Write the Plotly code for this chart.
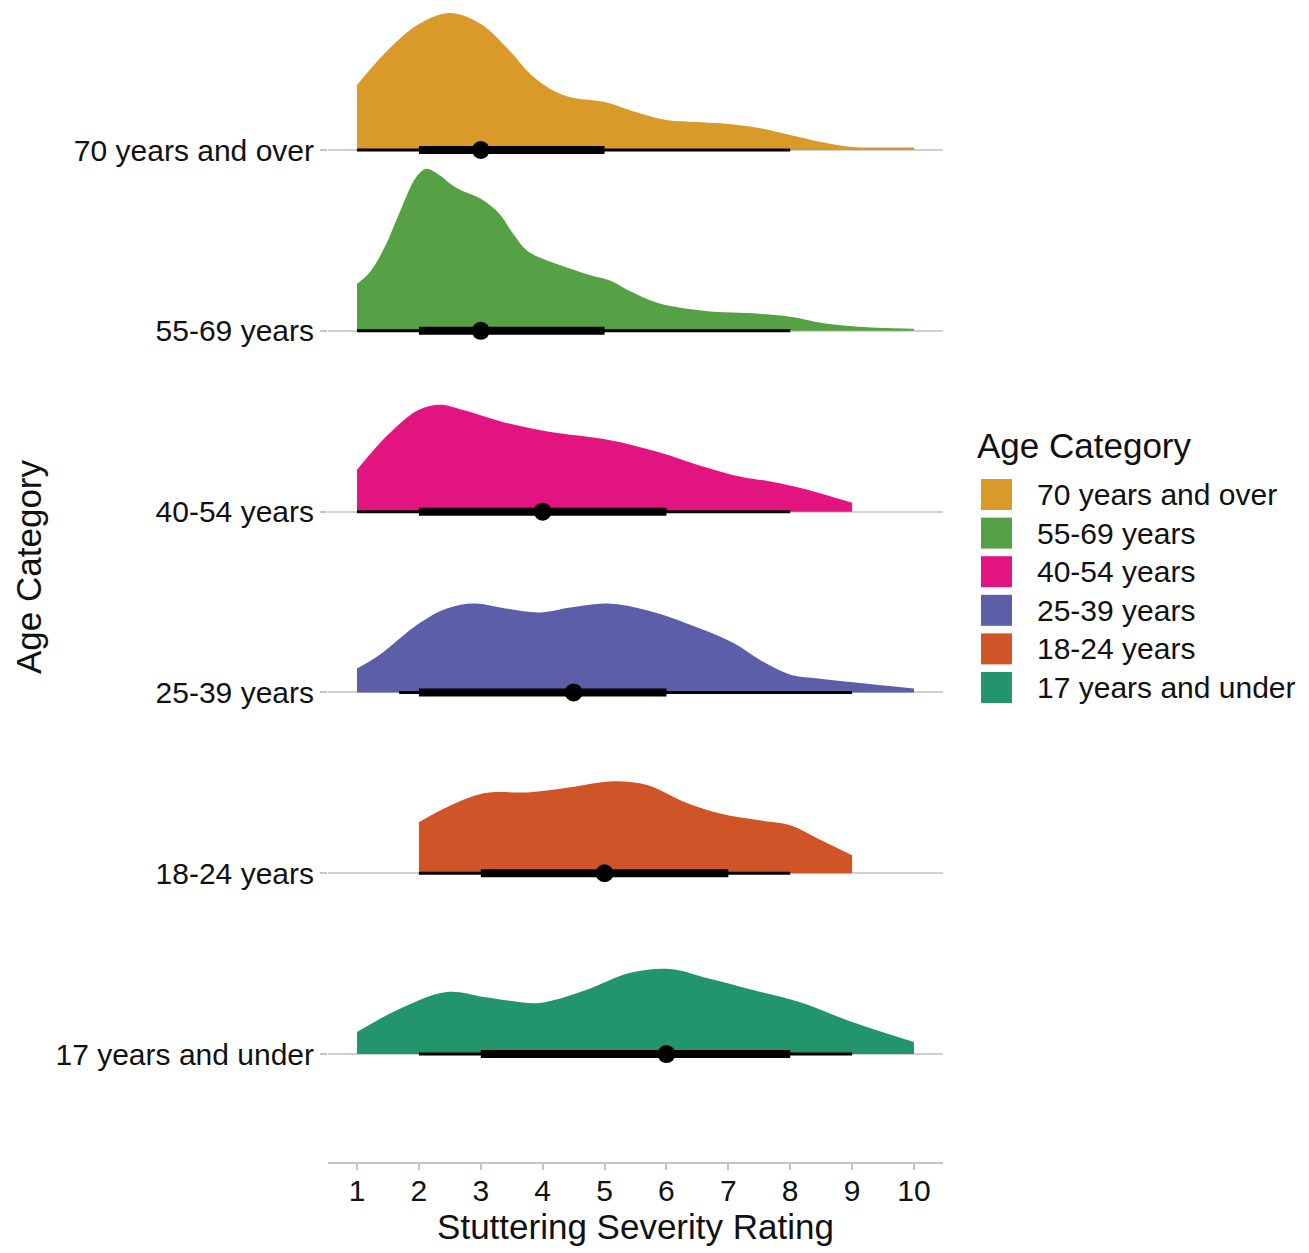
import plotly.graph_objects as go

# Age groups, bottom row first
categories = ["17 years and under", "18-24 years", "25-39 years",
              "40-54 years", "55-69 years", "70 years and over"]
colors = ["#23956D", "#CF5428", "#5C5EA8", "#E21480", "#56A045", "#DA9A2A"]

# Density estimates of the severity rating for each age group
x_17 = [1, 1.65, 2.45, 3.05, 3.5, 3.95, 4.7, 5.4, 6.05, 6.65, 7.4, 8.15, 9, 10]
d_17 = [0.022, 0.044, 0.062, 0.057, 0.053, 0.051, 0.064, 0.081, 0.085, 0.076, 0.064, 0.052, 0.032, 0.012]

x_18 = [2, 2.45, 3.05, 3.8, 4.45, 5.15, 5.7, 6.3, 6.85, 7.5, 8.0, 8.5, 9]
d_18 = [0.051, 0.066, 0.080, 0.081, 0.086, 0.092, 0.088, 0.071, 0.060, 0.053, 0.048, 0.033, 0.018]

x_25 = [1, 1.35, 2, 2.45, 2.9, 3.4, 3.95, 4.45, 5.05, 5.7, 6.5, 7.1, 7.5, 7.8, 8.05, 8.45, 9.05, 10]
d_25 = [0.024, 0.037, 0.069, 0.084, 0.089, 0.084, 0.080, 0.085, 0.089, 0.082, 0.065, 0.049, 0.033, 0.023, 0.017, 0.014, 0.010, 0.004]

x_40 = [1, 1.5, 2, 2.35, 2.7, 3.4, 4.1, 5.05, 5.85, 6.6, 7.2, 7.7, 8.15, 9]
d_40 = [0.042, 0.077, 0.102, 0.107, 0.102, 0.089, 0.080, 0.072, 0.060, 0.045, 0.035, 0.030, 0.024, 0.009]

x_55 = [1, 1.2, 1.45, 1.7, 1.95, 2.12, 2.3, 2.6, 3.0, 3.3, 3.5, 3.75, 4.0, 4.4, 4.8, 5.1, 5.4, 5.85, 6.6, 7.5, 8.0, 8.6, 9.4, 10]
d_55 = [0.047, 0.058, 0.084, 0.120, 0.153, 0.162, 0.157, 0.143, 0.132, 0.117, 0.099, 0.080, 0.072, 0.063, 0.055, 0.050, 0.040, 0.028, 0.020, 0.017, 0.014, 0.007, 0.003, 0.002]

x_70 = [1, 1.5, 2, 2.5, 3, 3.5, 3.75, 4, 4.25, 4.5, 5, 5.5, 6, 6.5, 7, 7.5, 8, 8.5, 9, 9.5, 10]
d_70 = [0.065, 0.100, 0.126, 0.137, 0.126, 0.097, 0.079, 0.066, 0.057, 0.052, 0.048, 0.038, 0.030, 0.028, 0.026, 0.022, 0.015, 0.008, 0.003, 0.0025, 0.0025]

density_x = [x_17, x_18, x_25, x_40, x_55, x_70]
density_y = [d_17, d_18, d_25, d_40, d_55, d_70]

# Point summaries: median with 66% and 95% intervals
medians = [6, 5, 4.5, 4, 3, 3]
q66_lo = [3, 3, 2, 2, 2, 2]
q66_hi = [8, 7, 6, 6, 5, 5]
q95_lo = [2, 2, 1.68, 1, 1, 1]
q95_hi = [9, 8, 9, 8, 8, 8]

x_ticks = list(range(1, 11))

RIDGE_SCALE = 5.53  # density units -> row heights
FONT = "Liberation Sans, Arial, Helvetica, sans-serif"
TEXT = "#111111"

fig = go.Figure()

for i, cat in enumerate(categories):
    xs, ds = density_x[i], density_y[i]
    # baseline for the ridge fill
    fig.add_trace(go.Scatter(x=[xs[0], xs[-1]], y=[i, i], mode="lines",
                             line=dict(width=0, color=colors[i]),
                             showlegend=False, hoverinfo="skip"))
    fig.add_trace(go.Scatter(x=xs, y=[i + d * RIDGE_SCALE for d in ds], mode="lines",
                             line=dict(width=0, color=colors[i], shape="spline", smoothing=1.0),
                             fill="tonexty", fillcolor=colors[i],
                             name=cat, showlegend=False, hoverinfo="skip"))
    # 95% interval
    fig.add_trace(go.Scatter(x=[q95_lo[i], q95_hi[i]], y=[i, i], mode="lines",
                             line=dict(width=3, color="black"),
                             showlegend=False, hoverinfo="skip"))
    # 66% interval
    fig.add_trace(go.Scatter(x=[q66_lo[i], q66_hi[i]], y=[i, i], mode="lines",
                             line=dict(width=8, color="black"),
                             showlegend=False, hoverinfo="skip"))
    # median
    fig.add_trace(go.Scatter(x=[medians[i]], y=[i], mode="markers",
                             marker=dict(size=18, color="black"),
                             showlegend=False, hoverinfo="skip"))

# plot area in pixels
L, R, T, B = 328, 943, 5, 1162
W_PX, H_PX = 1309, 1253


def px_x(px):
    return (px - L) / (R - L)


def px_y(py):
    return (B - py) / (B - T)


# legend drawn from the category/colour lists, top entry first
shapes = []
annotations = [
    dict(text="Age Category", x=px_x(975), y=px_y(445), xref="paper", yref="paper",
         xanchor="left", yanchor="middle", showarrow=False,
         font=dict(size=35, color=TEXT, family=FONT)),
    # y-axis title
    dict(text="Age Category", x=px_x(28), y=px_y(567), xref="paper", yref="paper",
         xanchor="center", yanchor="middle", textangle=-90, showarrow=False,
         font=dict(size=35, color=TEXT, family=FONT)),
]
for k, idx in enumerate(reversed(range(len(categories)))):
    cy = 494.5 + k * 38.6
    shapes.append(dict(type="rect", xref="paper", yref="paper",
                       x0=px_x(981), x1=px_x(1012), y0=px_y(cy + 15.5), y1=px_y(cy - 15.5),
                       fillcolor=colors[idx], line=dict(width=0)))
    annotations.append(dict(text=categories[idx], x=px_x(1035), y=px_y(cy),
                            xref="paper", yref="paper", xanchor="left", yanchor="middle",
                            showarrow=False, font=dict(size=30, color=TEXT, family=FONT)))

fig.update_layout(
    width=W_PX, height=H_PX,
    margin=dict(l=L, r=W_PX - R, t=T, b=H_PX - B),
    paper_bgcolor="white", plot_bgcolor="white",
    font=dict(family=FONT, color=TEXT),
    shapes=shapes, annotations=annotations,
    xaxis=dict(range=[0.531, 10.469], tickvals=x_ticks, ticktext=[str(t) for t in x_ticks],
               ticks="outside", ticklen=6, tickwidth=2, tickcolor="#c4c4c4",
               showline=True, linecolor="#c4c4c4", linewidth=2,
               showgrid=False, zeroline=False, ticklabelstandoff=-5,
               tickfont=dict(size=30, color=TEXT, family=FONT),
               title=dict(text="Stuttering Severity Rating", standoff=6,
                          font=dict(size=35, color=TEXT, family=FONT))),
    yaxis=dict(range=[-0.597, 5.802], tickvals=list(range(len(categories))), ticktext=categories,
               ticks="outside", ticklen=7, tickwidth=2, tickcolor="#c4c4c4",
               showline=False, showgrid=True, gridcolor="#d0d0d0", gridwidth=2, zeroline=False,
               tickfont=dict(size=30, color=TEXT, family=FONT)),
)

fig.write_html("out.html")
